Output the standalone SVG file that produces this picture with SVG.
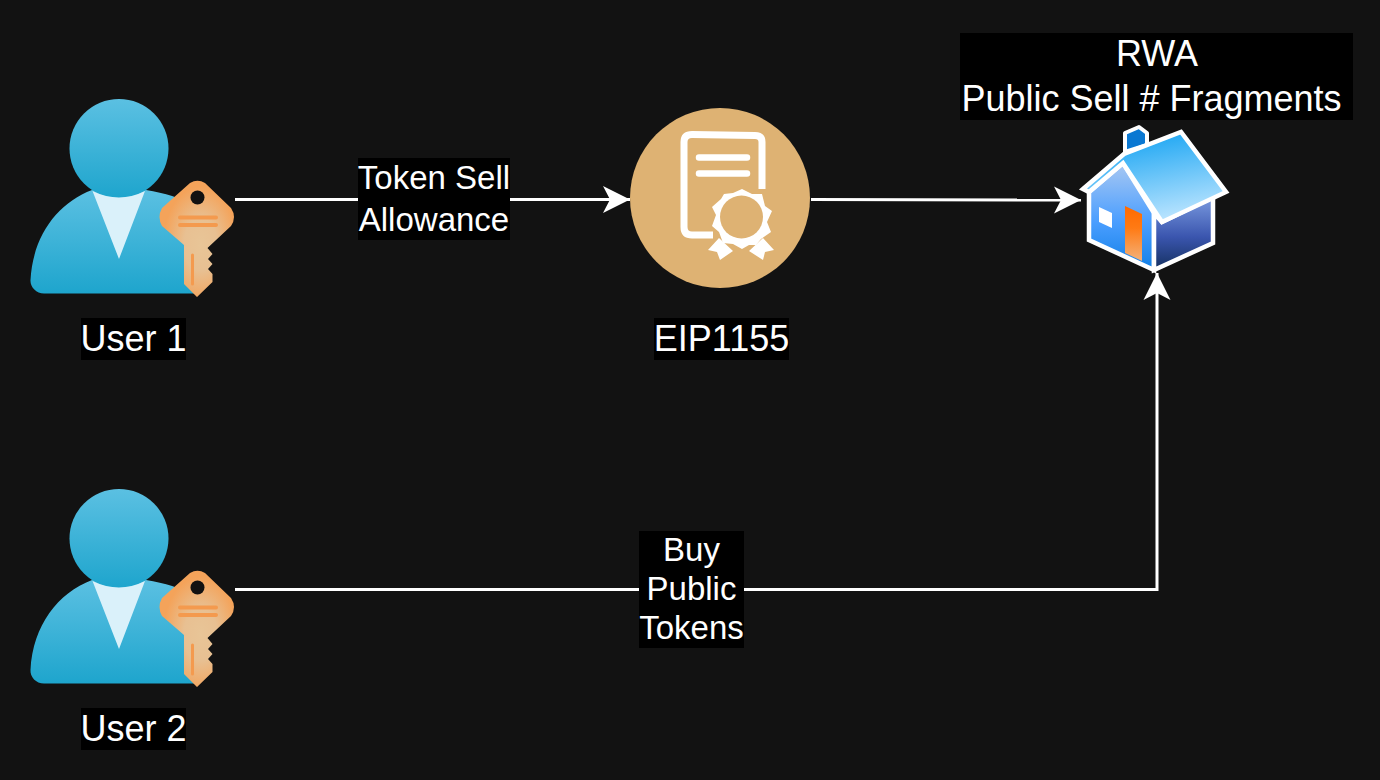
<svg xmlns="http://www.w3.org/2000/svg" width="1380" height="780" viewBox="0 0 1380 780">
<style>
text{font-family:"Liberation Sans",Arial,sans-serif;font-size:33px;fill:#fff;text-anchor:middle}
text.big{font-size:36px}
.bg{fill:#000}
.conn{fill:none;stroke:#fff;stroke-width:3}
</style>
<defs>
<linearGradient id="ub" x1="0" y1="0" x2="0" y2="1"><stop offset="0" stop-color="#5bc0e2"/><stop offset="1" stop-color="#1ea5cd"/></linearGradient>
<radialGradient id="kg" cx="0.55" cy="0.55" r="0.5"><stop offset="0" stop-color="#e8c597"/><stop offset="0.45" stop-color="#e8c092"/><stop offset="1" stop-color="#f4a35a"/></radialGradient>
<linearGradient id="roof" x1="0.3" y1="0" x2="0.6" y2="1"><stop offset="0" stop-color="#12a2f2"/><stop offset="1" stop-color="#bfe6ff"/></linearGradient>
<linearGradient id="front" x1="0" y1="0" x2="0" y2="1"><stop offset="0" stop-color="#a9c8f2"/><stop offset="0.55" stop-color="#4a9eff"/><stop offset="1" stop-color="#1280e6"/></linearGradient>
<linearGradient id="side" x1="0" y1="0" x2="0" y2="1"><stop offset="0" stop-color="#7b9be0"/><stop offset="0.55" stop-color="#3a55ae"/><stop offset="1" stop-color="#14305f"/></linearGradient>
<linearGradient id="door" x1="0" y1="0" x2="0" y2="1"><stop offset="0" stop-color="#ff6a00"/><stop offset="0.4" stop-color="#ff7a14"/><stop offset="1" stop-color="#f4b27a"/></linearGradient>
<marker id="arr" markerUnits="userSpaceOnUse" markerWidth="32" markerHeight="32" refX="27" refY="14" orient="auto"><path d="M0,0.500 L27,14 L0,27.500 L7,14 Z" fill="#fff"/></marker>
<g id="user">
<path d="M92,190 C58,203 33,235 30.500,280 C30,287 36,293.500 44,293.500 L196,293.500 L190,205 C182,198 165,193 146,190 Z" fill="url(#ub)"/>
<circle cx="119" cy="148.500" r="49.500" fill="url(#ub)"/>
<path d="M92.500,191 Q119,204 145,191 L119,259 Z" fill="#daf1fa"/>
<path d="M190,183 Q197.500,178.500 205,183 L231,208 Q237,217 231,226 L207.500,248 L212.500,254 L208,259 L212.500,264 L208,269 L212.500,274 L212.500,282 L197,297 L184,284 L184,245 L162,226 Q157,217 162,208 Z" fill="url(#kg)"/>
<circle cx="197.500" cy="197.500" r="7" fill="#111"/>
<path d="M180,217.500H216M180,225H216" stroke="#f49a4e" stroke-width="4" stroke-linecap="round" fill="none"/>
<path d="M192.500,255V284" stroke="#f49a4e" stroke-width="3" stroke-linecap="round" fill="none"/>
</g>
</defs>
<rect width="1380" height="780" fill="#121212"/>
<g id="connectors">
<path class="conn" d="M235,199.500H630" marker-end="url(#arr)"/>
<path class="conn" d="M811,199.500L1081,200" marker-end="url(#arr)"/>
<path class="conn" d="M235,589.500H1157V273" marker-end="url(#arr)"/>
<rect class="bg" x="358" y="158" width="152" height="82"/>
<text x="434" y="189">Token Sell</text>
<text x="434" y="231">Allowance</text>
<rect class="bg" x="639" y="531" width="105" height="117"/>
<text x="691.500" y="561">Buy</text>
<text x="691.500" y="600">Public</text>
<text x="691.500" y="639">Tokens</text>
</g>
<g id="user1"><use href="#user"/>
<rect class="bg" x="81" y="318" width="105" height="42"/><text class="big" x="133.500" y="351">User 1</text></g>
<g id="user2"><use href="#user" y="390"/>
<rect class="bg" x="81" y="708" width="105" height="42"/><text class="big" x="133.500" y="741">User 2</text></g>
<g id="eip1155">
<circle cx="720" cy="198" r="90" fill="#deb273"/>
<path d="M762,189 V142 Q762,135.500 755,135.500 L692,134.500 Q684,134.500 684,142 V227 Q684,235 692,235 H713" fill="none" stroke="#fff" stroke-width="7" stroke-linejoin="round"/>
<path d="M699,157.500H747M699,173.500H747" stroke="#fff" stroke-width="6.500" stroke-linecap="round" fill="none"/>
<path d="M708,250 L719,238 L733,251 L720,260 L717,252 Z M774,250 L763,238 L749,251 L763,260 L765,252 Z" fill="#fff"/>
<path d="M742,189 L752,194 L762,194 L765,206 L772,211 L767,222 L771,232 L761,239 L756,245 L749,245 L742,249 L733,244 L723,243 L719,232 L712,226 L716,215 L712,207 L721,199 L724,194 L733,193 Z" fill="#fff"/>
<circle cx="741.500" cy="217" r="21.500" fill="#deb273"/>
<rect class="bg" x="654" y="318" width="135" height="42"/><text class="big" x="721.500" y="351">EIP1155</text>
</g>
<g id="rwa">
<rect class="bg" x="960" y="33" width="393" height="87"/>
<text class="big" x="1157" y="66">RWA</text>
<text class="big" x="1151.500" y="111">Public Sell # Fragments</text>
<path d="M1125,152V133L1139,127L1147,133V145L1125,152Z" fill="#0a78d2" stroke="#fff" stroke-width="4" stroke-linejoin="round"/>
<path d="M1089,192V240L1154,270V213L1123,163Z" fill="url(#front)" stroke="#fff" stroke-width="4.500"/>
<path d="M1154,213L1162,222L1213,197V243L1154,270Z" fill="url(#side)" stroke="#fff" stroke-width="4.500"/>
<path d="M1099,207L1112,213V228L1099,222Z" fill="#fff"/>
<path d="M1125,206L1142,214V261L1125,253Z" fill="url(#door)"/>
<path d="M1083,189L1124,154L1181,132L1226,192L1162,222L1123,163L1089,192Z" fill="url(#roof)" stroke="#fff" stroke-width="4.500"/>
</g>
</svg>
